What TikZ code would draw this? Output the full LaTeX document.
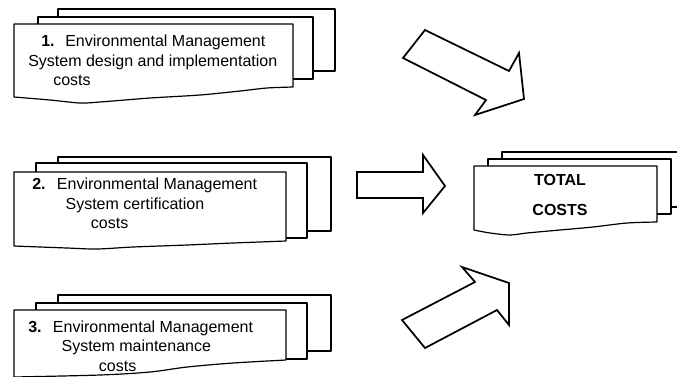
\documentclass[tikz,border=0pt]{standalone}
\usepackage{fontspec}
\setmainfont{Liberation Sans}
\usepackage{tikz}
\usetikzlibrary{positioning,calc}

\begin{document}
\begin{tikzpicture}[x=0.75pt, y=-0.75pt,
    sheet/.style={draw, line width=0.9pt, fill=white, line join=round},
    bigarrow/.style={draw, line width=1.3pt, fill=white, line join=miter},
    label/.style={align=left, anchor=base west, inner sep=0pt, font=\fontsize{12}{14.6}\selectfont}]
    \useasboundingbox (0,0) rectangle (677,376);

    % Stack 1: design and implementation costs
    \draw [sheet] (58,9) rectangle (335,71);
    \draw [sheet] (38,17) rectangle (313,79);
    \draw [sheet] (14,24) -- (293,24) -- (293,87)
        -- plot[smooth] coordinates {(293,87) (267,88) (240,91) (200,95) (150,98) (100,102) (80,103) (50,100) (14,97)}
        -- cycle;
    \node [label] (design) at (28,85.5) {
        \hspace*{9.75pt}\textbf{1.}\hspace{8pt}Environmental Management \\
        System design and implementation \\
        \hspace*{18.75pt}costs
    };

    % Stack 2: certification costs
    \draw [sheet] (58,157) rectangle (331,231);
    \draw [sheet] (36,163) rectangle (307,238);
    \draw [sheet] (14,172) -- (286,172) -- (286,241)
        -- plot[smooth] coordinates {(286,241) (233,243) (187,245) (133,247) (97,249) (67,248) (14,246)}
        -- cycle;
    \node [label] (certif) at (32,228.5) {
        \textbf{2.}\hspace{8.5pt}Environmental Management \\
        \hspace*{25pt}System certification \\
        \hspace*{44pt}costs
    };

    % Stack 3: maintenance costs
    \draw [sheet] (58,295) rectangle (331,351);
    \draw [sheet] (36,303) rectangle (307,359);
    \draw [sheet] (14,310) -- (286,310) -- (286,360)
        -- plot[smooth] coordinates {(286,360) (233,363) (187,367) (150,372) (100,375) (14,377)}
        -- cycle;
    \node [label] (maint) at (28,371) {
        \textbf{3.}\hspace{8.5pt}Environmental Management \\
        \hspace*{25pt}System maintenance \\
        \hspace*{53pt}costs
    };

    % Stack of total costs
    \draw [sheet] (700,152) -- (502,152) -- (502,207) -- (700,207);
    \draw [sheet] (488,159) rectangle (671,214);
    \draw [sheet] (474,166) -- (657,166) -- (657,222)
        -- plot[smooth] coordinates {(657,222) (627,223) (593,227) (560,230) (527,233) (510,235) (490,233) (474,230)}
        -- cycle;
    \node [font=\fontsize{12}{22.5}\selectfont\bfseries, align=center, anchor=base] (total) at (560,215) {
        TOTAL \\ COSTS
    };

    % Block arrows
    \draw [bigarrow] (425,30) -- (509,71) -- (519,53) -- (524,99) -- (475,115) -- (486,100) -- (403,58) -- cycle;
    \draw [bigarrow] (357,172) -- (423,172) -- (423,155) -- (445,186) -- (423,213) -- (423,198) -- (357,198) -- cycle;
    \draw [bigarrow] (402,320) -- (475,282) -- (462,267) -- (509,283) -- (509,325) -- (497,310) -- (425,348) -- cycle;
\end{tikzpicture}
\end{document}
